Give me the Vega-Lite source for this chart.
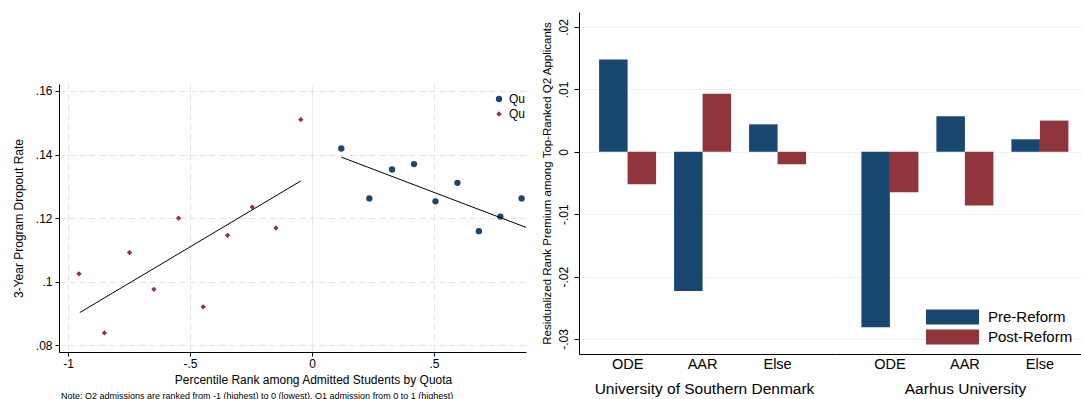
{
  "$schema": "https://vega.github.io/schema/vega-lite/v6.json",
  "padding": {"left": 12, "top": 12, "right": 0, "bottom": 0},
  "background": "white",
  "config": {
    "font": "Liberation Sans",
    "view": {"stroke": null},
    "axis": {"labelColor": "black", "titleColor": "black", "domainColor": "black", "tickColor": "black", "titleFontWeight": "normal", "labelFont": "Liberation Sans", "titleFont": "Liberation Sans"},
    "legend": {"labelColor": "black", "labelFont": "Liberation Sans"},
    "title": {"color": "black", "fontWeight": "normal", "font": "Liberation Sans"}
  },
  "datasets": {
    "pts": [
      {"quota": "Quota 2", "x": -0.955, "y": 0.1025},
      {"quota": "Quota 2", "x": -0.851, "y": 0.0839},
      {"quota": "Quota 2", "x": -0.748, "y": 0.1092},
      {"quota": "Quota 2", "x": -0.648, "y": 0.0976},
      {"quota": "Quota 2", "x": -0.547, "y": 0.12},
      {"quota": "Quota 2", "x": -0.446, "y": 0.0921},
      {"quota": "Quota 2", "x": -0.346, "y": 0.1146},
      {"quota": "Quota 2", "x": -0.245, "y": 0.1235},
      {"quota": "Quota 2", "x": -0.148, "y": 0.1169},
      {"quota": "Quota 2", "x": -0.046, "y": 0.151},
      {"quota": "Quota 1", "x": 0.12, "y": 0.1419},
      {"quota": "Quota 1", "x": 0.235, "y": 0.1262},
      {"quota": "Quota 1", "x": 0.328, "y": 0.1353},
      {"quota": "Quota 1", "x": 0.418, "y": 0.137},
      {"quota": "Quota 1", "x": 0.506, "y": 0.1253},
      {"quota": "Quota 1", "x": 0.596, "y": 0.1311},
      {"quota": "Quota 1", "x": 0.684, "y": 0.1159},
      {"quota": "Quota 1", "x": 0.772, "y": 0.1205},
      {"quota": "Quota 1", "x": 0.859, "y": 0.1262}
    ],
    "fit": [
      {"quota": "Quota 2", "x": -0.952, "y": 0.0903},
      {"quota": "Quota 2", "x": -0.046, "y": 0.1317},
      {"quota": "Quota 1", "x": 0.12, "y": 0.1392},
      {"quota": "Quota 1", "x": 0.877, "y": 0.1171}
    ],
    "spacer": [{"k": 0}],
    "sdu": [
      {"uni": "University of Southern Denmark", "program": "ODE", "period": "Pre-Reform", "value": 0.0148},
      {"uni": "University of Southern Denmark", "program": "ODE", "period": "Post-Reform", "value": -0.0052},
      {"uni": "University of Southern Denmark", "program": "AAR", "period": "Pre-Reform", "value": -0.0223},
      {"uni": "University of Southern Denmark", "program": "AAR", "period": "Post-Reform", "value": 0.0093},
      {"uni": "University of Southern Denmark", "program": "Else", "period": "Pre-Reform", "value": 0.0044},
      {"uni": "University of Southern Denmark", "program": "Else", "period": "Post-Reform", "value": -0.002}
    ],
    "au": [
      {"uni": "Aarhus University", "program": "ODE", "period": "Pre-Reform", "value": -0.0281},
      {"uni": "Aarhus University", "program": "ODE", "period": "Post-Reform", "value": -0.0065},
      {"uni": "Aarhus University", "program": "AAR", "period": "Pre-Reform", "value": 0.0057},
      {"uni": "Aarhus University", "program": "AAR", "period": "Post-Reform", "value": -0.0086},
      {"uni": "Aarhus University", "program": "Else", "period": "Pre-Reform", "value": 0.002},
      {"uni": "Aarhus University", "program": "Else", "period": "Post-Reform", "value": 0.005}
    ]
  },
  "resolve": {"scale": {"color": "independent", "shape": "independent", "size": "independent", "x": "independent", "y": "independent"}},
  "spacing": 15,
  "hconcat": [
    {
      "spacing": 0,
      "vconcat": [
        {
          "width": 467,
          "height": 72,
          "data": {"name": "spacer"},
          "mark": {"type": "point", "opacity": 0, "size": 0},
          "encoding": {}
        },
        {
          "width": 467,
          "height": 268,
          "title": {"text": "Note: Q2 admissions are ranked from -1 (highest) to 0 (lowest), Q1 admission from 0 to 1 (highest)", "orient": "bottom", "anchor": "start", "frame": "group", "fontSize": 9, "offset": 7, "dx": 2},
          "layer": [
            {
              "data": {"name": "pts"},
              "mark": {"type": "point", "filled": true, "opacity": 1},
              "encoding": {
                "x": {
                  "field": "x", "type": "quantitative",
                  "scale": {"domain": [-1.037, 0.877], "nice": false, "zero": false},
                  "axis": {
                    "values": [-1, -0.5, 0, 0.5],
                    "labelExpr": "replace(replace(format(datum.value, '~g'), '\u2212', '-'), '0.', '.')",
                    "title": "Percentile Rank among Admitted Students by Quota",
                    "titleX": 254,
                    "titleFontSize": 12,
                    "titlePadding": 5,
                    "labelFontSize": 12,
                    "labelPadding": 2,
                    "tickSize": 4,
                    "labelFlush": false,
                    "grid": true,
                    "gridDash": {"condition": {"test": "datum.value === 0", "value": []}, "value": [6, 4]},
                    "gridColor": {"condition": {"test": "datum.value === 0", "value": "#e6eef0"}, "value": "#e3e3e3"}
                  }
                },
                "y": {
                  "field": "y", "type": "quantitative",
                  "scale": {"domain": [0.0779, 0.1622], "nice": false, "zero": false},
                  "axis": {
                    "values": [0.08, 0.1, 0.12, 0.14, 0.16],
                    "labelExpr": "replace(replace(format(datum.value, '~g'), '\u2212', '-'), '0.', '.')",
                    "title": "3-Year Program Dropout Rate",
                    "titleFontSize": 12,
                    "titlePadding": 10,
                    "labelFontSize": 12,
                    "labelPadding": 3,
                    "tickSize": 4,
                    "labelFlush": false,
                    "grid": true,
                    "gridDash": [6, 4],
                    "gridColor": "#e3e3e3"
                  }
                },
                "color": {
                  "field": "quota", "type": "nominal",
                  "scale": {"domain": ["Quota 1", "Quota 2"], "range": ["#1a476f", "#90353b"]},
                  "legend": {"title": null, "orient": "none", "legendX": 434, "legendY": 81, "labelExpr": "'Qu'", "labelFontSize": 12, "rowPadding": 3, "labelOffset": 4}
                },
                "shape": {
                  "field": "quota", "type": "nominal",
                  "scale": {"domain": ["Quota 1", "Quota 2"], "range": ["circle", "diamond"]},
                  "legend": {"title": null, "orient": "none", "legendX": 434, "legendY": 81, "labelExpr": "'Qu'", "labelFontSize": 12, "rowPadding": 3, "labelOffset": 4}
                },
                "size": {
                  "field": "quota", "type": "nominal",
                  "scale": {"domain": ["Quota 1", "Quota 2"], "range": [40, 28]},
                  "legend": null
                }
              }
            },
            {
              "data": {"name": "fit"},
              "mark": {"type": "line", "color": "black", "strokeWidth": 1, "clip": true},
              "encoding": {
                "x": {"field": "x", "type": "quantitative"},
                "y": {"field": "y", "type": "quantitative"},
                "detail": {"field": "quota", "type": "nominal"}
              }
            }
          ]
        }
      ]
    },
    {
      "spacing": 0,
      "resolve": {"scale": {"color": "independent", "y": "independent", "x": "independent", "xOffset": "independent"}},
      "hconcat": [
        {
          "width": 256,
          "height": 342,
          "data": {"name": "sdu"},
          "mark": {"type": "bar"},
          "encoding": {
            "x": {
              "field": "program", "type": "nominal", "sort": ["ODE", "AAR", "Else"],
              "scale": {"paddingInner": 0.24, "paddingOuter": 0.327, "align": 0.41},
              "axis": {"title": "University of Southern Denmark", "titleX": 125, "labelAngle": 0, "ticks": false, "labelFontSize": 14.5, "titleFontSize": 15.5, "labelPadding": 3, "titlePadding": 11}
            },
            "xOffset": {"field": "period", "type": "nominal", "sort": ["Pre-Reform", "Post-Reform"], "scale": {"paddingInner": 0, "paddingOuter": 0}},
            "y": {
              "field": "value", "type": "quantitative",
              "scale": {"domain": [-0.0324, 0.0224], "nice": false},
              "axis": {
                "values": [-0.03, -0.02, -0.01, 0, 0.01, 0.02],
                "labelExpr": "replace(replace(format(datum.value, '~g'), '\u2212', '-'), '0.', '.')",
                "labelAngle": -90, "labelAlign": "center", "labelBaseline": "bottom",
                "labelFontSize": 12, "labelPadding": 4, "tickSize": 5, "labelFlush": false,
                "title": "Residualized Rank Premium among Top-Ranked Q2 Applicants",
                "titleFontSize": 11.5, "titlePadding": 5,
                "grid": true, "gridColor": "#eaf2f3"
              }
            },
            "color": {"field": "period", "type": "nominal", "scale": {"domain": ["Pre-Reform", "Post-Reform"], "range": ["#1a476f", "#90353b"]}, "legend": null}
          }
        },
        {
          "width": 247,
          "height": 342,
          "data": {"name": "au"},
          "mark": {"type": "bar"},
          "encoding": {
            "x": {
              "field": "program", "type": "nominal", "sort": ["ODE", "AAR", "Else"],
              "scale": {"paddingInner": 0.24, "paddingOuter": 0.2667, "align": 0.66},
              "axis": {"title": "Aarhus University", "titleX": 130, "labelAngle": 0, "ticks": false, "labelFontSize": 14.5, "titleFontSize": 15.5, "labelPadding": 3, "titlePadding": 11}
            },
            "xOffset": {"field": "period", "type": "nominal", "sort": ["Pre-Reform", "Post-Reform"], "scale": {"paddingInner": 0, "paddingOuter": 0}},
            "y": {
              "field": "value", "type": "quantitative",
              "scale": {"domain": [-0.0324, 0.0224], "nice": false},
              "axis": {
                "values": [-0.03, -0.02, -0.01, 0, 0.01, 0.02],
                "labels": false, "ticks": false, "domain": false, "title": null,
                "grid": true, "gridColor": "#eaf2f3"
              }
            },
            "color": {
              "field": "period", "type": "nominal",
              "scale": {"domain": ["Pre-Reform", "Post-Reform"], "range": ["#1a476f", "#90353b"]},
              "legend": {"title": null, "orient": "bottom-right", "offset": 9, "symbolType": "M-1,-0.28H1V0.28H-1Z", "symbolSize": 2809, "symbolStrokeWidth": 0, "symbolOpacity": 1, "clipHeight": 16, "rowPadding": 4, "labelFontSize": 15, "labelOffset": 9}
            }
          }
        }
      ]
    }
  ]
}
